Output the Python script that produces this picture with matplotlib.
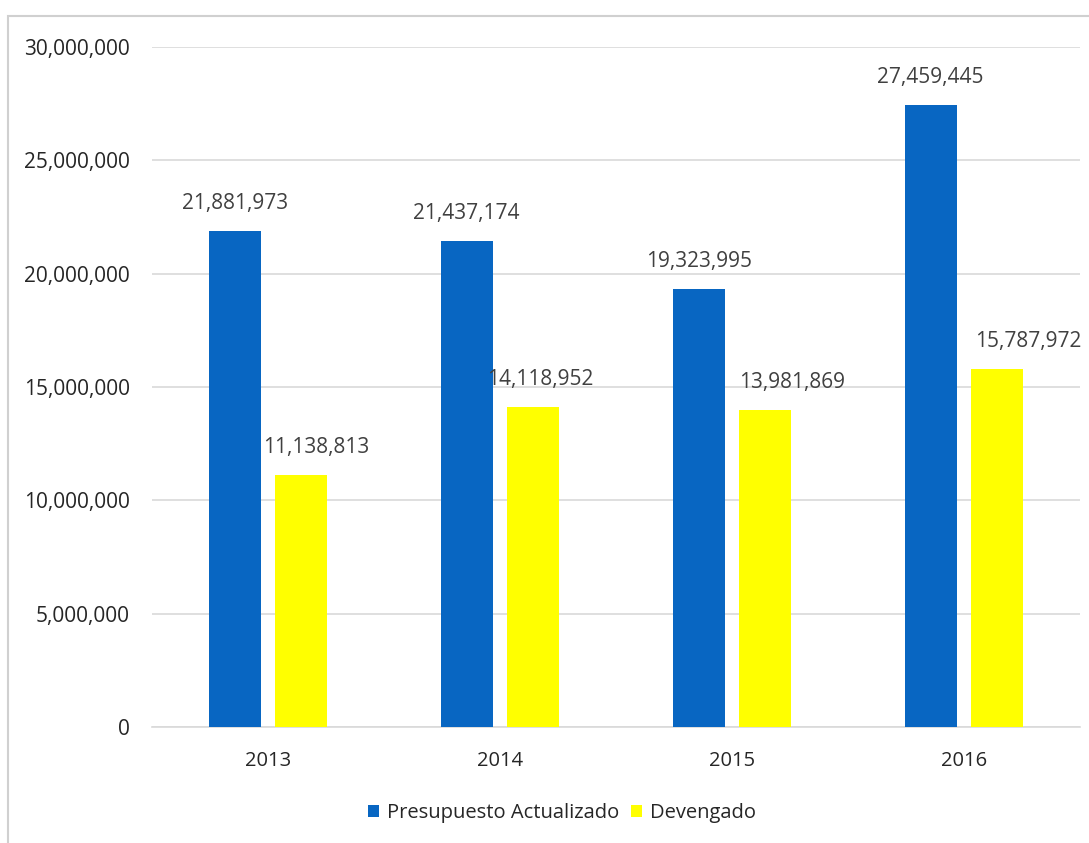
import matplotlib
matplotlib.use("Agg")
import matplotlib.pyplot as plt
from matplotlib.patches import Rectangle
from matplotlib.ticker import FuncFormatter
import numpy as np

years = ["2013", "2014", "2015", "2016"]
presupuesto = [21881973, 21437174, 19323995, 27459445]
devengado = [11138813, 14118952, 13981869, 15787972]
series_names = ["Presupuesto Actualizado", "Devengado"]

# small horizontal nudges (points) for the Devengado value labels
dev_label_dx = [11, 5, 19, 22]

BLUE = "#0866C2"
YELLOW = "#FFFF00"
TEXT = "#404040"
GRID = "#D9D9D9"

plt.rcParams["font.family"] = ["Open Sans", "DejaVu Sans"]

fig = plt.figure(figsize=(10.89, 8.43), dpi=100)
fig.patch.set_facecolor("white")

# outer chart frame
fig.add_artist(Rectangle((8 / 1089, -0.01), 1.02, 1 - 16 / 843 + 0.01,
                         transform=fig.transFigure, fill=False,
                         edgecolor="#D0D0D0", linewidth=1.5))

ax = fig.add_axes([152 / 1089, 1 - 727 / 843, 928 / 1089, 680 / 843])

x = np.arange(len(years))
w = 0.224
off = 0.144
b1 = ax.bar(x - off, presupuesto, width=w, color=BLUE, label=series_names[0], zorder=3)
b2 = ax.bar(x + off, devengado, width=w, color=YELLOW, label=series_names[1], zorder=3)

ax.set_xlim(-0.5, len(years) - 0.5)
ax.set_ylim(0, 30000000)
ax.set_yticks(np.arange(0, 30000001, 5000000))
ax.yaxis.set_major_formatter(FuncFormatter(lambda v, p: f"{int(v):,}"))
ax.set_xticks(x)
ax.set_xticklabels(years)

for s in ["top", "right", "left"]:
    ax.spines[s].set_visible(False)
ax.spines["bottom"].set_color(GRID)
ax.spines["bottom"].set_linewidth(1.2)
ax.grid(axis="y", color=GRID, linewidth=1.2, zorder=0)
ax.tick_params(axis="y", length=0, labelsize=15, colors="#262626", pad=16)
ax.tick_params(axis="x", length=0, labelsize=14.5, colors="#262626", pad=17)

for rect, v in zip(b1, presupuesto):
    ax.annotate(f"{v:,}", (rect.get_x() + rect.get_width() / 2, v),
                xytext=(0, 12), textcoords="offset points",
                ha="center", va="bottom", fontsize=15, color=TEXT)
for rect, v, dx in zip(b2, devengado, dev_label_dx):
    ax.annotate(f"{v:,}", (rect.get_x() + rect.get_width() / 2, v),
                xytext=(dx, 12), textcoords="offset points",
                ha="center", va="bottom", fontsize=15, color=TEXT)

fig.legend(handles=[b1, b2], labels=series_names, loc="center",
           bbox_to_anchor=(562 / 1089, 1 - 813 / 843), ncol=2, frameon=False,
           fontsize=14.5, handlelength=0.55, handleheight=0.55, handletextpad=0.4,
           columnspacing=0.6, labelcolor="#262626")

fig.savefig("out.png", dpi=100, facecolor="white")
